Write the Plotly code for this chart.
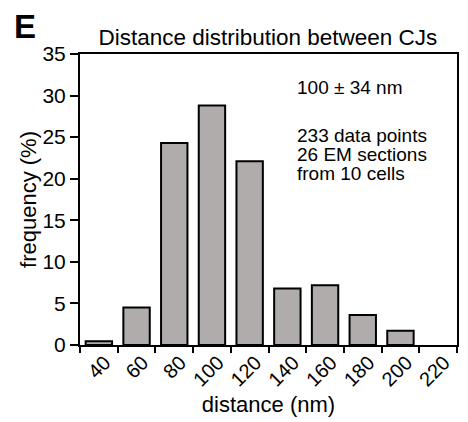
import plotly.graph_objects as go

categories = ["40", "60", "80", "100", "120", "140", "160", "180", "200", "220"]
frequency = [0.45, 4.5, 24.3, 28.8, 22.1, 6.8, 7.2, 3.6, 1.7, None]

y_ticks = [0, 5, 10, 15, 20, 25, 30, 35]

stats_line = "100 ± 34 nm"
info_lines = ["233 data points", "26 EM sections", "from 10 cells"]

FONT = "Arial, Liberation Sans, sans-serif"

fig = go.Figure()
fig.add_trace(go.Bar(
    x=categories, y=frequency,
    marker=dict(color="#b0acab", line=dict(color="black", width=2)),
    width=0.7,
))

# page body has an 8px default margin, so the figure is 8px smaller
fig.update_layout(
    width=460, height=414,
    margin=dict(l=72, r=11, t=46, b=77),
    paper_bgcolor="white", plot_bgcolor="white",
    showlegend=False,
    font=dict(family=FONT, color="black", size=21),
    title=dict(text="Distance distribution between CJs", x=0.565, xanchor="center",
               y=0.93, yanchor="middle", font=dict(size=22.5, family=FONT, color="black")),
)

fig.update_xaxes(
    type="category", range=[-0.5, 9.5], automargin=False,
    showline=True, linecolor="black", linewidth=2, mirror=True,
    ticks="outside", ticklen=6, tickwidth=2, tickcolor="black",
    tickson="boundaries", tickangle=-45, ticklabelshift=6, ticklabelstandoff=-4,
    tickfont=dict(size=20, family=FONT),
    title=dict(text="distance (nm)", font=dict(size=22, family=FONT), standoff=7),
    showgrid=False, zeroline=False,
)
fig.update_yaxes(
    range=[0, 35], tickvals=y_ticks, automargin=False,
    showline=True, linecolor="black", linewidth=2, mirror=True,
    ticks="outside", ticklen=8, tickwidth=2, tickcolor="black",
    tickfont=dict(size=21, family=FONT),
    title=dict(text="frequency (%)", font=dict(size=22, family=FONT), standoff=0),
    showgrid=False, zeroline=False,
)

fig.add_annotation(text="<b>E</b>", xref="paper", yref="paper", x=-0.18, y=1.093,
                   xanchor="left", yanchor="middle", showarrow=False,
                   font=dict(size=33, family=FONT, color="black"))
fig.add_annotation(text=stats_line, xref="paper", yref="paper", x=0.57, y=0.885,
                   xanchor="left", yanchor="middle", showarrow=False,
                   font=dict(size=19, family=FONT, color="black"))
for i, line in enumerate(info_lines):
    fig.add_annotation(text=line, xref="paper", yref="paper", x=0.57, y=0.720 - i * 0.066,
                       xanchor="left", yanchor="middle", showarrow=False,
                       font=dict(size=19, family=FONT, color="black"))

fig.write_html("out.html")
